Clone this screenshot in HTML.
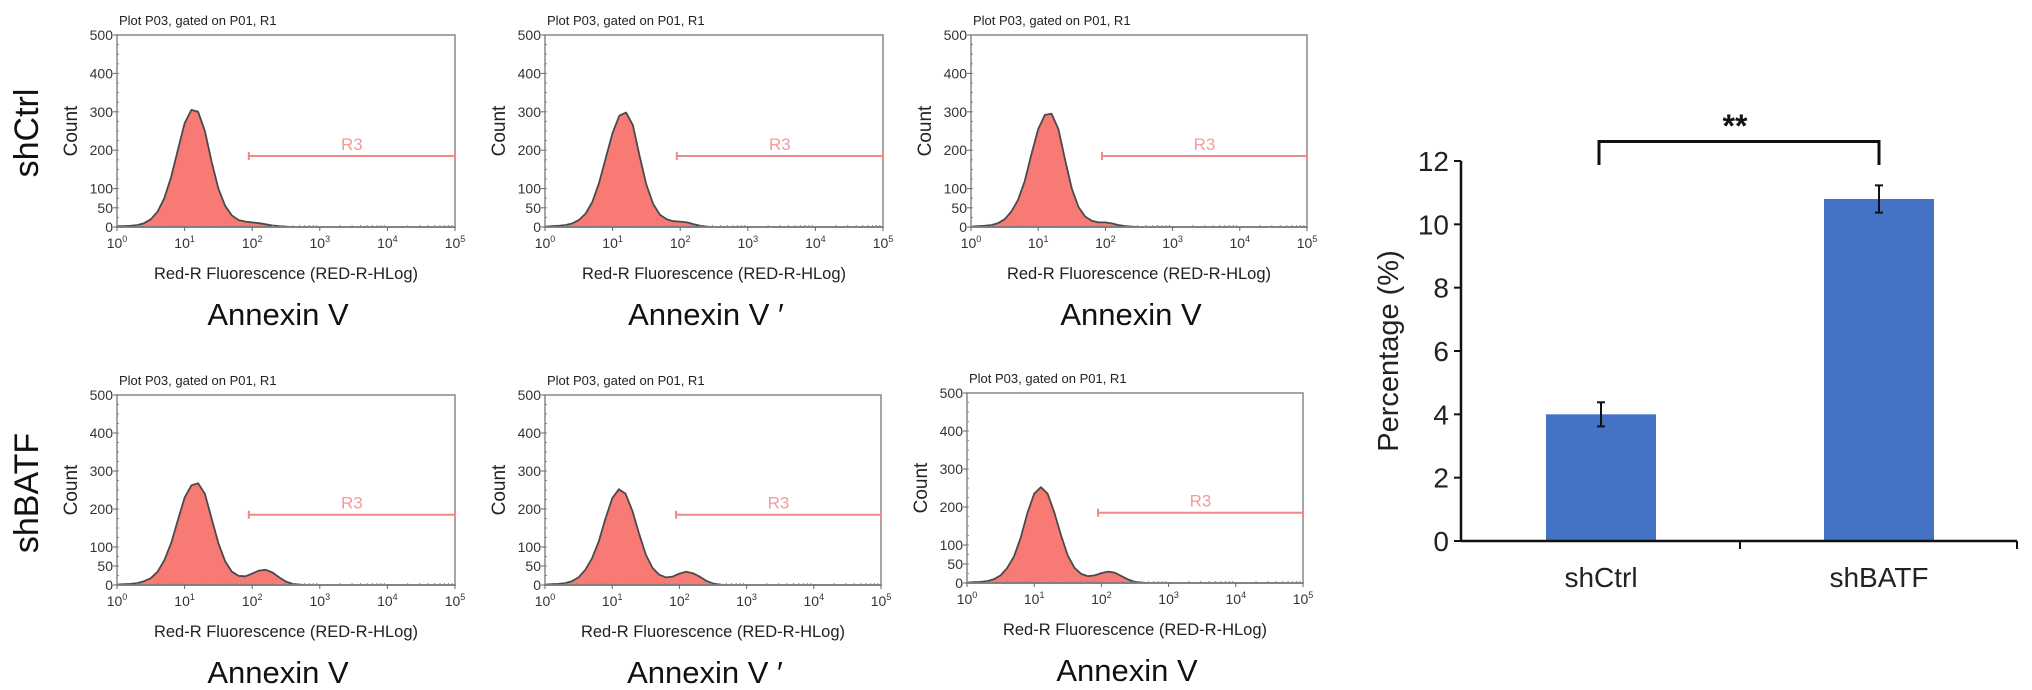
<!DOCTYPE html>
<html><head><meta charset="utf-8"><style>
html,body{margin:0;padding:0;background:#fff;}
svg{display:block;font-family:"Liberation Sans",Arial,sans-serif;}
</style></head><body>
<svg id="fig" width="2032" height="690" viewBox="0 0 2032 690" xmlns="http://www.w3.org/2000/svg"></svg>
<script>
// ---- histogram data (counts at log10 x = 0.0..3.0 step 0.1) ----
const histTitles = ["Plot P03, gated on P01, R1"];
const countTicks = [0, 50, 100, 200, 300, 400, 500];
const decadeTicks = [0, 1, 2, 3, 4, 5];
const gateStartLog = 1.95;
const h1 = [2,2,3,5,10,20,40,75,130,200,270,305,300,250,170,100,55,30,18,14,12,10,7,4,2,1,0,0,0,0,0];
const h2 = [1,2,3,5,9,18,35,65,115,180,245,290,298,265,185,110,60,32,20,15,14,12,7,3,1,0,0,0,0,0,0];
const h3 = [1,2,3,5,10,20,40,70,120,190,255,292,295,255,175,100,52,27,16,12,12,9,5,2,1,0,0,0,0,0,0];
const h4 = [1,2,3,5,10,18,35,65,110,170,230,262,268,240,175,110,62,35,24,23,30,38,40,33,20,9,3,1,0,0,0];
const h5 = [1,2,3,5,10,20,40,70,115,175,228,252,240,195,135,80,45,27,20,22,30,35,31,22,11,4,1,0,0,0,0];
const h6 = [1,2,3,5,10,20,40,70,120,185,235,252,235,185,125,72,40,24,18,20,26,30,27,18,9,3,1,0,0,0,0];
// ---- bar chart data ----
const groups = ["shCtrl", "shBATF"];
const means = [4.0, 10.8];
const errs = [0.38, 0.43];
const pctTicks = [0, 2, 4, 6, 8, 10, 12];

const NS = "http://www.w3.org/2000/svg";
const svg = document.getElementById("fig");
function mk(tag, attrs, parent, text){
  const e = document.createElementNS(NS, tag);
  for (const k in attrs) e.setAttribute(k, attrs[k]);
  if (text !== undefined) e.textContent = text;
  (parent || svg).appendChild(e);
  return e;
}

const panels = [
  {data:h1, L:117, R:455, T:35, B:227, prime:false},
  {data:h2, L:545, R:883, T:35, B:227, prime:true},
  {data:h3, L:971, R:1307, T:35, B:227, prime:false},
  {data:h4, L:117, R:455, T:395, B:585, prime:false},
  {data:h5, L:545, R:881, T:395, B:585, prime:true},
  {data:h6, L:967, R:1303, T:393, B:583, prime:false}
];

panels.forEach((p, idx) => {
  const g = mk("g", {});
  
  
  const xs = v => p.L + (v/5)*(p.R - p.L);
  const ys = c => p.B - (c/500)*(p.B - p.T);
  const t = mk("text", {x:p.L+2, y:p.T-10, "font-size":13, fill:"#222"}, g, histTitles[0]);
  
  
  let d = "M" + xs(0) + "," + ys(0);
  p.data.forEach((c, i) => { d += " L" + xs(i*0.1).toFixed(1) + "," + ys(c).toFixed(1); });
  d += " L" + xs(5) + "," + ys(0) + " Z";
  const area = mk("path", {d:d, fill:"#f77a74", stroke:"#4a4a4a", "stroke-width":1.8, "stroke-linejoin":"round"}, g);
  
  
  const fr = mk("rect", {x:p.L, y:p.T, width:p.R-p.L, height:p.B-p.T, fill:"none", stroke:"#888", "stroke-width":1.5}, g);
  
  
  countTicks.forEach(c => {
    mk("line", {x1:p.L-4, x2:p.L, y1:ys(c), y2:ys(c), stroke:"#666"}, g);
    const tl = mk("text", {x:p.L-4, y:ys(c)+5, "font-size":14, "text-anchor":"end", fill:"#333"}, g, String(c));
    
    
  });
  for (let c = 25; c < 500; c += 25) mk("line", {x1:p.L, x2:p.L+2, y1:ys(c), y2:ys(c), stroke:"#888"}, g);
  decadeTicks.forEach(v => {
    mk("line", {x1:xs(v), x2:xs(v), y1:p.B, y2:p.B+4, stroke:"#666"}, g);
    const tl = mk("text", {x:xs(v), y:p.B+21, "font-size":14, "text-anchor":"middle", fill:"#333"}, g);
    
    
    mk("tspan", {}, tl, "10");
    mk("tspan", {dy:-6, "font-size":9}, tl, String(v));
    if (v < 5) for (let k = 2; k < 10; k++) {
      const xv = xs(v + Math.log10(k));
      mk("line", {x1:xv, x2:xv, y1:p.B, y2:p.B-2, stroke:"#888"}, g);
    }
  });
  const cy = (p.T + p.B)/2;
  const ct = mk("text", {x:p.L-40, y:cy, "font-size":19, "text-anchor":"middle", fill:"#222", transform:"rotate(-90 "+(p.L-40)+" "+cy+")"}, g, "Count");
  
  
  const gy = ys(185);
  const gl = mk("line", {x1:xs(gateStartLog), x2:p.R, y1:gy, y2:gy, stroke:"#f08a8a", "stroke-width":2}, g);
  
  
  mk("line", {x1:xs(gateStartLog), x2:xs(gateStartLog), y1:gy-4, y2:gy+4, stroke:"#f08a8a", "stroke-width":2}, g);
  mk("line", {x1:p.R, x2:p.R, y1:gy-4, y2:gy+4, stroke:"#f08a8a", "stroke-width":2}, g);
  const r3 = mk("text", {x:(xs(gateStartLog)+p.R)/2, y:gy-6, "font-size":17, "text-anchor":"middle", fill:"#f59a9a"}, g, "R3");
  
  
  const xt = mk("text", {x:(p.L+p.R)/2, y:p.B+52, "font-size":16.5, "text-anchor":"middle", fill:"#222"}, g, "Red-R Fluorescence (RED-R-HLog)");
  
  
  const an = mk("text", {x:(p.L+p.R)/2 - 8, y:p.B+98, "font-size":31, "text-anchor":"middle", fill:"#111"}, g, "Annexin V" + (p.prime ? " \u2032" : ""));
  
  
});

[["shCtrl",133],["shBATF",493]].forEach(([s,y]) => {
  const t = mk("text", {x:38, y:y, "font-size":34, "text-anchor":"middle", fill:"#111", transform:"rotate(-90 38 "+y+")"}, svg, s);
  
  
});

// ---- bar chart ----
const AX = 1461, Y0 = 541, Y12 = 161, XR = 2017;
const yv = v => Y0 - (v/12)*(Y0 - Y12);
const centers = [1601, 1879];
const bw = 110;
const bc = mk("g", {});


groups.forEach((gname, i) => {
  const r = mk("rect", {x:centers[i]-bw/2, y:yv(means[i]), width:bw, height:Y0-yv(means[i]), fill:"#4472c4"}, bc);
  
  
  const eb = mk("g", {stroke:"#111", "stroke-width":2}, bc);
  
  
  mk("line", {x1:centers[i], x2:centers[i], y1:yv(means[i]+errs[i]), y2:yv(means[i]-errs[i])}, eb);
  mk("line", {x1:centers[i]-4, x2:centers[i]+4, y1:yv(means[i]+errs[i]), y2:yv(means[i]+errs[i])}, eb);
  mk("line", {x1:centers[i]-4, x2:centers[i]+4, y1:yv(means[i]-errs[i]), y2:yv(means[i]-errs[i])}, eb);
  const xl = mk("text", {x:centers[i], y:Y0+46, "font-size":28, "text-anchor":"middle", fill:"#222"}, bc, gname);
  
  
});
const yaxis = mk("line", {x1:AX, x2:AX, y1:Y12, y2:Y0, stroke:"#111", "stroke-width":2.5}, bc);


const xaxis = mk("line", {x1:AX, x2:XR, y1:Y0, y2:Y0, stroke:"#111", "stroke-width":2.5}, bc);


mk("line", {x1:(centers[0]+centers[1])/2, x2:(centers[0]+centers[1])/2, y1:Y0, y2:Y0+8, stroke:"#111", "stroke-width":2}, bc);
mk("line", {x1:XR, x2:XR, y1:Y0, y2:Y0+8, stroke:"#111", "stroke-width":2}, bc);
pctTicks.forEach(v => {
  mk("line", {x1:AX-7, x2:AX, y1:yv(v), y2:yv(v), stroke:"#111", "stroke-width":2}, bc);
  const tl = mk("text", {x:AX-12, y:yv(v)+10, "font-size":28, "text-anchor":"end", fill:"#222"}, bc, String(v));
  
  
});
const yt = mk("text", {x:1398, y:351, "font-size":29, "text-anchor":"middle", fill:"#222", transform:"rotate(-90 1398 351)"}, bc, "Percentage (%)");


const br = mk("path", {d:"M"+(centers[0]-2)+",165 V141.5 H"+centers[1]+" V165", fill:"none", stroke:"#111", "stroke-width":3}, bc);


const st = mk("text", {x:(centers[0]+centers[1])/2-5, y:137, "font-size":32, "font-weight":"bold", "text-anchor":"middle", fill:"#111"}, bc, "**");


</script>
</body></html>
